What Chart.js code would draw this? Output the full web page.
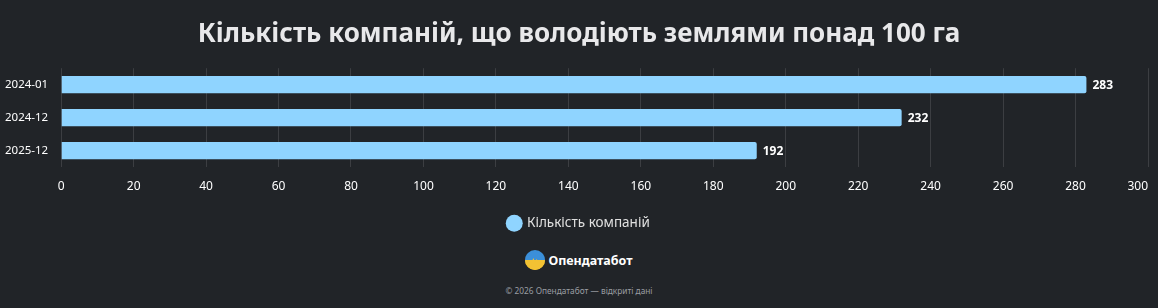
<!DOCTYPE html>
<html>
<head>
<meta charset="utf-8">
<script src="https://cdn.jsdelivr.net/npm/chart.js@4"></script>
<style>
  html, body { margin: 0; padding: 0; background: #212428; }
  body { width: 1158px; height: 308px; overflow: hidden; font-family: "Noto Sans", sans-serif; }
  #wrap { width: 1158px; height: 240px; }
  .brand { display: flex; align-items: center; justify-content: center; gap: 3px; margin-top: 8px; height: 24px; }
  .brand span { color: #fff; font-weight: 700; font-size: 12.5px; }
  .foot { text-align: center; color: #9a9da2; font-size: 8.3px; margin-top: 13px; }
</style>
</head>
<body>
<div id="wrap"><canvas id="bar-chart" width="1158" height="240"></canvas></div>
<div class="brand">
  <svg width="20" height="20" viewBox="0 0 20 20">
    <defs><clipPath id="c"><circle cx="10" cy="10" r="10"/></clipPath></defs>
    <g clip-path="url(#c)">
      <rect x="0" y="0" width="20" height="11" fill="#3b8fd9"/>
      <rect x="0" y="10" width="20" height="10" fill="#f2c233"/>
      <path d="M0 11 L7 11 L8.5 8 L10 13 L11.5 9 L13 11 L20 11 L20 20 L0 20 Z" fill="#f2c233"/>
    </g>
  </svg>
  <span>Опендатабот</span>
</div>
<div class="foot">© 2026 Опендатабот — відкриті дані</div>
<script>
//categories and values
var periods = ["2024-01", "2024-12", "2025-12"];
var companyCounts = [283, 232, 192];
var seriesLabel = "Кількість компаній";
var chartTitle = "Кількість компаній, що володіють землями понад 100 га";

//draws the number at the end of each bar
var valueLabels = {
  id: "valueLabels",
  beforeDraw: function(chart) {
    //last x tick label ends at its grid line instead of being centred on it
    var items = chart.scales.x.getLabelItems();
    if (items.length) items[items.length - 1].options.textAlign = "right";
  },
  afterDatasetsDraw: function(chart) {
    var ctx = chart.ctx;
    var meta = chart.getDatasetMeta(0);
    ctx.save();
    ctx.font = "bold 12px 'Noto Sans'";
    ctx.fillStyle = "#ffffff";
    ctx.textBaseline = "middle";
    ctx.textAlign = "left";
    meta.data.forEach(function(bar, i) {
      ctx.fillText(companyCounts[i], bar.x + 6, bar.y + 1);
    });
    ctx.restore();
  }
};

var barChart = new Chart(document.getElementById("bar-chart"), {
  type: "bar",
  data: {
    labels: periods,
    datasets: [{
      label: seriesLabel,
      data: companyCounts,
      backgroundColor: "#8fd4ff",
      borderWidth: 0,
      borderRadius: 2,
      barPercentage: 0.65,
      categoryPercentage: 0.8
    }]
  },
  options: {
    indexAxis: "y",
    responsive: false,
    animation: false,
    layout: { padding: { left: 0, right: 0, bottom: 0 } },
    scales: {
      x: {
        min: 0,
        max: 300,
        ticks: { stepSize: 20, color: "#ffffff", font: { size: 12, family: "Noto Sans" }, padding: 12 },
        grid: { color: "rgba(255,255,255,0.12)", drawTicks: false },
        border: { display: false },
        afterFit: function(scale) { scale.paddingRight = 10; }
      },
      y: {
        ticks: { color: "#ffffff", font: { size: 11.5, family: "Noto Sans" }, padding: 5 },
        grid: { display: false },
        border: { display: false }
      }
    },
    plugins: {
      title: {
        display: true,
        text: chartTitle,
        color: "#e8e8ea",
        font: { size: 26, weight: "bold", family: "Noto Sans" },
        padding: { top: 19, bottom: 18 }
      },
      legend: {
        position: "bottom",
        labels: {
          color: "#e0e0e0",
          font: { size: 13.5, family: "Noto Sans" },
          usePointStyle: true,
          pointStyle: "circle",
          boxWidth: 12,
          boxHeight: 12,
          padding: 11
        }
      },
      tooltip: { enabled: false }
    }
  },
  plugins: [valueLabels]
});
</script>
</body>
</html>
